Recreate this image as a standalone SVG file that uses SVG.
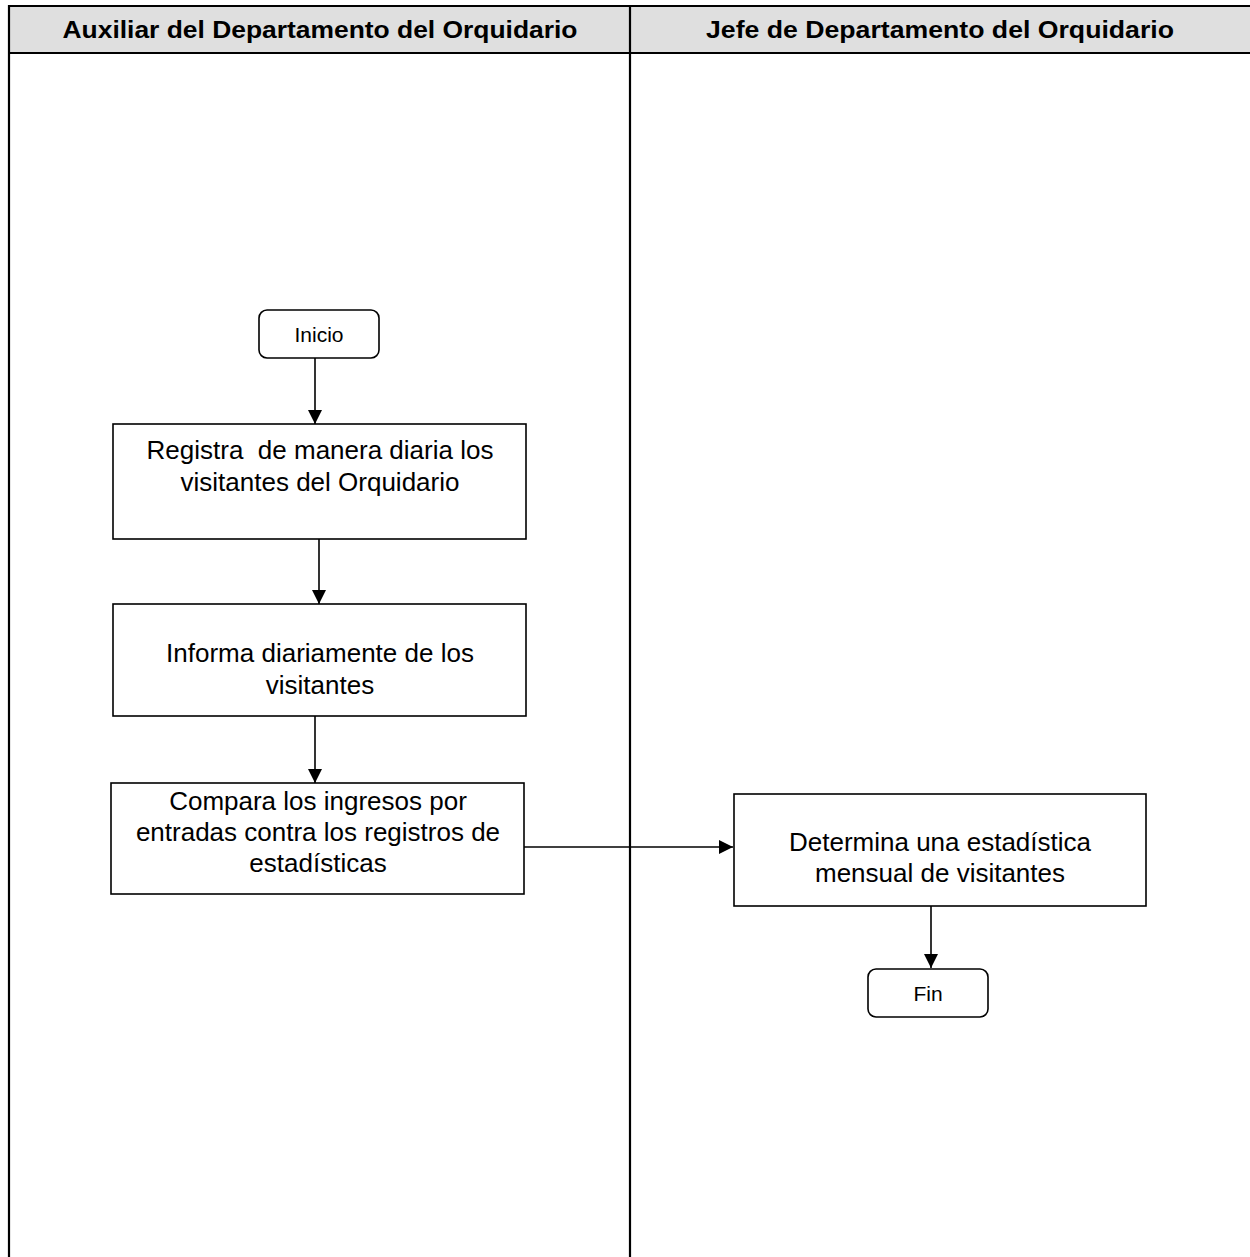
<svg xmlns="http://www.w3.org/2000/svg" width="1250" height="1257" viewBox="0 0 1250 1257">
<style>
.lane{stroke:#000;stroke-width:2.2;fill:none}
.hdr{font-family:"Liberation Sans",Arial,sans-serif;font-weight:bold;font-size:24px;text-anchor:middle;fill:#000}
.box{fill:#fff;stroke:#000;stroke-width:1.6}
.t{font-family:"Liberation Sans",Arial,sans-serif;font-size:26px;text-anchor:middle;fill:#000}
.ts{font-family:"Liberation Sans",Arial,sans-serif;font-size:21px;text-anchor:middle;fill:#000}
.c{stroke:#000;stroke-width:1.6;fill:none;marker-end:url(#ah)}
</style>
<defs>
<marker id="ah" viewBox="0 0 10 10" refX="10" refY="5" markerWidth="14" markerHeight="14" markerUnits="userSpaceOnUse" orient="auto">
<path d="M0,0 L10,5 L0,10 z" fill="#000"/>
</marker>
</defs>
<rect width="1250" height="1257" fill="#fff"/>
<g id="lanes">
<rect x="9" y="6" width="1245" height="47" fill="#dfdfdf"/>
<line class="lane" x1="9" y1="6" x2="1250" y2="6"/>
<line class="lane" x1="9" y1="53" x2="1250" y2="53"/>
<line class="lane" x1="9" y1="5" x2="9" y2="1257"/>
<line class="lane" x1="630" y1="5" x2="630" y2="1257"/>
<text class="hdr" x="320" y="38" textLength="515" lengthAdjust="spacingAndGlyphs">Auxiliar del Departamento del Orquidario</text>
<text class="hdr" x="940" y="38" textLength="468" lengthAdjust="spacingAndGlyphs">Jefe de Departamento del Orquidario</text>
</g>
<g id="connectors">
<line class="c" x1="315" y1="358" x2="315" y2="424"/>
<line class="c" x1="319" y1="539" x2="319" y2="604"/>
<line class="c" x1="315" y1="716" x2="315" y2="783"/>
<line class="c" x1="524" y1="847" x2="733" y2="847"/>
<line class="c" x1="931" y1="906" x2="931" y2="968"/>
</g>
<g id="inicio">
<rect class="box" x="259" y="310" width="120" height="48" rx="8"/>
<text class="ts" x="319" y="342">Inicio</text>
</g>
<g id="registra">
<rect class="box" x="113" y="424" width="413" height="115"/>
<text class="t" x="320" y="459" xml:space="preserve">Registra  de manera diaria los</text>
<text class="t" x="320" y="491">visitantes del Orquidario</text>
</g>
<g id="informa">
<rect class="box" x="113" y="604" width="413" height="112"/>
<text class="t" x="320" y="662">Informa diariamente de los</text>
<text class="t" x="320" y="694">visitantes</text>
</g>
<g id="compara">
<rect class="box" x="111" y="783" width="413" height="111"/>
<text class="t" x="318" y="810">Compara los ingresos por</text>
<text class="t" x="318" y="841">entradas contra los registros de</text>
<text class="t" x="318" y="872">estadísticas</text>
</g>
<g id="determina">
<rect class="box" x="734" y="794" width="412" height="112"/>
<text class="t" x="940" y="851">Determina una estadística</text>
<text class="t" x="940" y="882">mensual de visitantes</text>
</g>
<g id="fin">
<rect class="box" x="868" y="969" width="120" height="48" rx="8"/>
<text class="ts" x="928" y="1001">Fin</text>
</g>
</svg>
